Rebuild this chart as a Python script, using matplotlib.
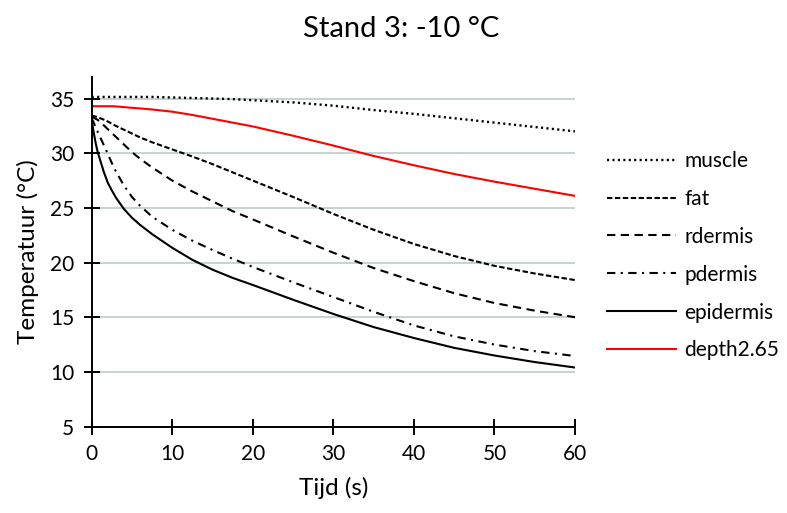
import matplotlib
matplotlib.use('Agg')
import matplotlib.pyplot as plt

plt.rcParams['font.family'] = ['Lato', 'DejaVu Sans']

# Time points (s) and temperatures (°C)
tijd = [0, 0.25, 0.5, 0.75, 1, 1.5, 2, 2.5, 3, 4, 5, 6, 7.5, 10, 12.5, 15, 17.5, 20,
        25, 30, 35, 40, 45, 50, 55, 60]

muscle = [35.15, 35.15, 35.15, 35.15, 35.15, 35.15, 35.15, 35.15, 35.15, 35.15, 35.15, 35.15, 35.15,
          35.1, 35.05, 35.0, 34.95, 34.85, 34.65, 34.35, 33.95, 33.6, 33.2, 32.8, 32.4, 32.0]
fat = [33.4, 33.4, 33.35, 33.3, 33.22, 33.07, 32.9, 32.7, 32.5, 32.15, 31.8, 31.45, 31.0,
       30.35, 29.7, 29.0, 28.25, 27.5, 26.0, 24.45, 23.0, 21.7, 20.6, 19.7, 19.0, 18.4]
rdermis = [33.3, 33.25, 33.15, 33.05, 32.9, 32.55, 32.2, 31.85, 31.5, 30.8, 30.1, 29.5, 28.7,
           27.5, 26.5, 25.6, 24.7, 23.95, 22.4, 20.9, 19.5, 18.3, 17.2, 16.3, 15.6, 15.0]
pdermis = [33.2, 32.8, 32.35, 31.95, 31.55, 30.75, 29.95, 29.1, 28.35, 27.05, 26.0, 25.2, 24.2,
           23.0, 22.0, 21.15, 20.35, 19.6, 18.2, 16.85, 15.5, 14.25, 13.25, 12.5, 11.9, 11.45]
epidermis = [33.0, 31.9, 30.9, 30.1, 29.5, 28.3, 27.3, 26.6, 25.95, 24.9, 24.1, 23.45, 22.6,
             21.35, 20.25, 19.35, 18.6, 17.95, 16.6, 15.3, 14.1, 13.1, 12.2, 11.5, 10.9, 10.4]
depth265 = [34.3, 34.3, 34.3, 34.3, 34.3, 34.3, 34.3, 34.3, 34.28, 34.22, 34.15, 34.1, 34.0,
            33.8, 33.5, 33.15, 32.8, 32.45, 31.6, 30.7, 29.75, 28.9, 28.1, 27.4, 26.75, 26.1]

x_ticks = [0, 10, 20, 30, 40, 50, 60]
y_ticks = [5, 10, 15, 20, 25, 30, 35]

fig = plt.figure(figsize=(7.87, 5.13), dpi=100)
ax = fig.add_axes([0.1165, 0.1685, 0.6141, 0.682])

lw = 1.5
ax.plot(tijd, muscle, color='black', lw=1.7, linestyle=(0, (0.9, 1.4)), label='muscle')
ax.plot(tijd, fat, color='black', lw=lw, linestyle=(0, (2.6, 1.2)), label='fat')
ax.plot(tijd, rdermis, color='black', lw=lw, linestyle=(0, (4, 2.6)), label='rdermis')
ax.plot(tijd, pdermis, color='black', lw=lw, linestyle=(0, (4, 2.6, 1, 2.6)), label='pdermis')
ax.plot(tijd, epidermis, color='black', lw=lw, label='epidermis')
ax.plot(tijd, depth265, color='#FF0000', lw=lw, label='depth2.65')

ax.set_xlim(0, 60)
ax.set_ylim(5, 37)
ax.set_xticks(x_ticks)
ax.set_yticks(y_ticks)

# horizontal gridlines only
for y in y_ticks[1:]:
    ax.axhline(y, color='#C3CFCF', lw=1.3, zorder=0)

for s in ['top', 'right']:
    ax.spines[s].set_visible(False)
for s in ['left', 'bottom']:
    ax.spines[s].set_linewidth(1.4)
ax.tick_params(direction='inout', length=11, width=1.4, labelsize=15, pad=7)

ax.set_xlabel('Tijd (s)', fontsize=17.5, labelpad=9)
ax.set_ylabel('Temperatuur (°C)', fontsize=17.5, labelpad=8)

fig.text(0.51, 0.928, 'Stand 3: -10 °C', fontsize=21, ha='center', va='baseline')

ax.legend(loc='center left', bbox_to_anchor=(0.771, 0.5016), bbox_transform=fig.transFigure,
          frameon=False, fontsize=15, handlelength=3.3, handletextpad=0.43,
          labelspacing=0.86, borderpad=0, borderaxespad=0)

fig.savefig('out.png', dpi=100)
